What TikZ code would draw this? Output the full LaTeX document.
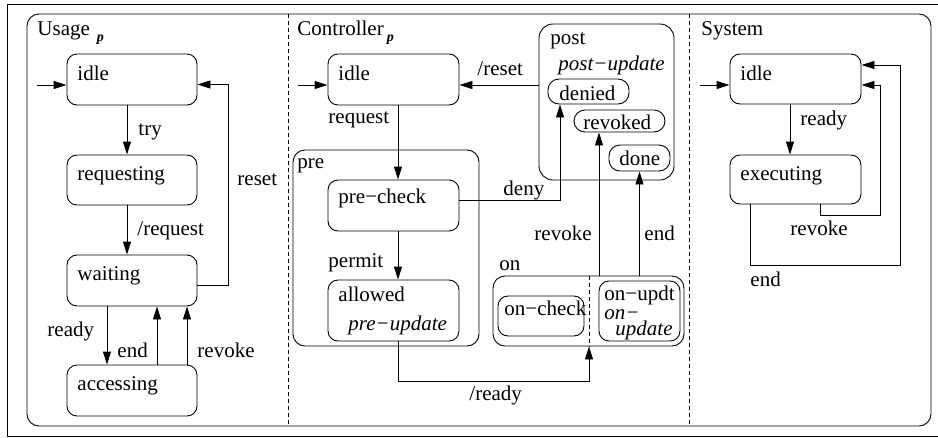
\documentclass[tikz,border=0pt]{standalone}
\usepackage{fontspec}
\setmainfont{Liberation Serif}
\usetikzlibrary{arrows.meta,fit,calc}

\begin{document}
\begin{tikzpicture}[x=1pt,y=-1pt,
  line width=0.9pt,
  every node/.style={font=\fontsize{21}{24}\selectfont},
  box/.style={draw, rounded corners=10pt, inner sep=0pt},
  pill/.style={draw, rounded corners=11pt, inner sep=0pt},
  txt/.style={anchor=base west, inner sep=0pt},
  it/.style={txt, font=\fontsize{21}{24}\selectfont\itshape},
  arr/.style={-{Triangle[length=13pt,width=8pt]}},
  sep/.style={dash pattern=on 4pt off 3pt, line width=0.7pt},
]
\useasboundingbox (0,0) rectangle (938,437);

% outer frame and the three parallel regions
\draw (945,4) -- (7,4) -- (7,436) -- (945,436);
\node[box, rounded corners=12pt, fit={(27,14) (931,426)}] (frame) {};
\coordinate (d1) at (288,0);
\coordinate (d2) at (689,0);
\draw[sep] (frame.north -| d1) -- (frame.south -| d1);
\draw[sep] (frame.north -| d2) -- (frame.south -| d2);

% ---------------- Usage ----------------
\node[txt] (u-title) at (37,35) {Usage\hspace{7pt}\raisebox{-6pt}{\fontsize{14}{14}\selectfont\bfseries\itshape p}};
\node[box, fit={(67,54) (197,105)}] (u-idle) {};
\node[txt] at (77,80) {idle};
\node[box, fit={(67,155) (197,205)}] (u-req) {};
\node[txt] at (77,180) {requesting};
\node[box, fit={(67,255) (197,306)}] (u-wait) {};
\node[txt] at (77,280) {waiting};
\node[box, fit={(67,365) (197,416)}] (u-acc) {};
\node[txt] at (77,390) {accessing};

\coordinate (u-init) at (37,85);
\draw[arr] (u-init) -- (u-init -| u-idle.west);
\draw[arr] ([xshift=-5pt]u-idle.south) -- ([xshift=-5pt]u-req.north);
\draw[arr] ([xshift=-5pt]u-req.south) -- ([xshift=-5pt]u-wait.north);
\draw[arr] ([yshift=-5pt]u-wait.east) -| ([xshift=31pt,yshift=-5pt]u-idle.east) -- ([yshift=-5pt]u-idle.east);
\draw[arr] ([xshift=-25pt]u-wait.south) -- ([xshift=-25pt]u-acc.north);
\draw[arr] ([xshift=25pt]u-acc.north) -- ([xshift=25pt]u-wait.south);
\draw[arr] ([xshift=55pt]u-acc.north) -- ([xshift=55pt]u-wait.south);

\node[txt] at (138,135) {try};
\node[txt] at (237,185) {reset};
\node[txt] at (137,235) {/request};
\node[txt] at (47,336) {ready};
\node[txt] at (117,357) {end};
\node[txt] at (197,357) {revoke};

% ---------------- Controller ----------------
\node[txt] (c-title) at (297,35) {Controller\hspace{3pt}\raisebox{-6pt}{\fontsize{14}{14}\selectfont\bfseries\itshape p}};
\node[box, fit={(328,54) (459,105)}] (c-idle) {};
\node[txt] at (338,80) {idle};

\node[box, rounded corners=12pt, fit={(293,150) (479,346)}] (c-pre) {};
\node[txt] at (297,168) {pre};
\node[box, fit={(328,180) (459,231)}] (c-pchk) {};
\node[txt] at (338,203) {pre−check};
\node[box, fit={(328,280) (459,341)}] (c-allow) {};
\node[txt] at (338,301) {allowed};
\node[it] at (348,330) {pre−update};

\node[box, rounded corners=14pt, fit={(539,24) (674,180)}] (c-post) {};
\node[txt] at (550,44) {post};
\node[it] at (558,70) {post−update};
\node[pill, fit={(548,79) (629,104)}] (c-den) {};
\node[txt] at (559,100) {denied};
\node[pill, fit={(574,110) (665,132)}] (c-rvk) {};
\node[txt] at (583,129) {revoked};
\node[pill, fit={(609,145) (670,171)}] (c-done) {};
\node[txt] at (619,165) {done};

\node[box, rounded corners=12pt, fit={(493,276) (684,346)}] (c-on) {};
\node[txt] at (499,270) {on};
\node[box, fit={(498,296) (584,336)}] (c-onchk) {};
\node[txt] at (504,315) {on−check};
\node[box, fit={(599,281) (680,341)}] (c-onupd) {};
\node[txt] at (604,300) {on−updt};
\node[it] at (604,319) {on−};
\node[it] at (615,335) {update};

\coordinate (c-init) at (298,85);
\draw[arr] (c-init) -- (c-init -| c-idle.west);
\draw[arr] ([xshift=4.5pt]c-idle.south) -- ([xshift=4.5pt]c-pchk.north);
\coordinate (c-rs) at ([yshift=-5.5pt]c-idle.east);
\draw[arr] (c-rs -| c-post.west) -- (c-rs);
\draw[arr] ([yshift=5.5pt]c-pchk.east) -| ([xshift=-28.5pt]c-den.south);
\draw[arr] ([xshift=4.5pt]c-pchk.south) -- ([xshift=4.5pt]c-allow.north);
\coordinate (c-div) at (589,0);
\draw[arr] ([xshift=4.5pt]c-allow.south) -- ++(0,40) -| (c-on.south -| c-div);
\draw[sep] (c-on.north -| c-div) -- (c-on.south -| c-div);
\coordinate (c-rv) at ([xshift=-20.5pt]c-rvk.south);
\draw[arr] (c-on.north -| c-rv) -- (c-rv);
\draw[arr] (c-on.north -| c-done.south) -- (c-done.south);

\node[txt] at (328,123) {request};
\node[txt] at (477,75) {/reset};
\node[txt] at (503,195) {deny};
\node[txt] at (328,267) {permit};
\node[txt] at (469,400) {/ready};
\node[txt] at (534,240) {revoke};
\node[txt] at (644,240) {end};

% ---------------- System ----------------
\node[txt] (s-title) at (701,35) {System};
\node[box, fit={(730,54) (861,104)}] (s-idle) {};
\node[txt] at (740,80) {idle};
\node[box, fit={(730,155) (861,204)}] (s-exec) {};
\node[txt] at (740,180) {executing};

\coordinate (s-init) at (700,85);
\draw[arr] (s-init) -- (s-init -| s-idle.west);
\draw[arr] ([xshift=-5.5pt]s-idle.south) -- ([xshift=-5.5pt]s-exec.north);
\coordinate (s-rv) at ([yshift=-6pt]s-idle.east);
\draw[arr] ([xshift=24.5pt]s-exec.south) -- ++(0,11) -| ([xshift=19pt]s-rv) -- (s-rv);
\coordinate (s-en) at ([yshift=14pt]s-idle.east);
\draw[arr] ([xshift=-45.5pt]s-exec.south) -- ++(0,61) -| ([xshift=39pt]s-en) -- (s-en);

\node[txt] at (800,125) {ready};
\node[txt] at (790,235) {revoke};
\node[txt] at (750,286) {end};
\end{tikzpicture}
\end{document}
